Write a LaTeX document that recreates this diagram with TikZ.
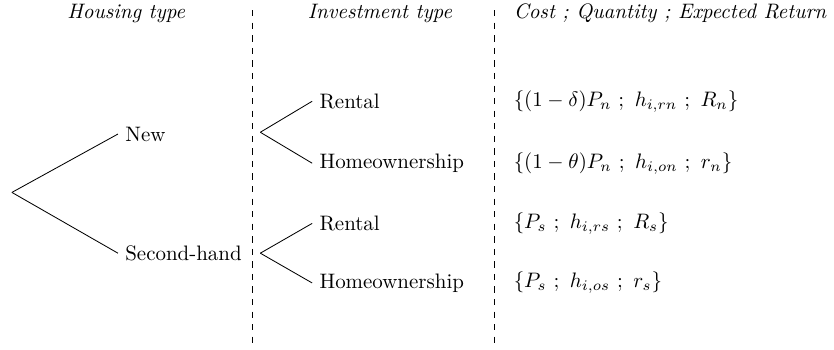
\documentclass[tikz,border=0pt]{standalone}
\usepackage{amsmath}
\usepackage{tikz}

\begin{document}
\begin{tikzpicture}[every node/.style={anchor=west}]
\useasboundingbox (0,0) rectangle (14.0,-5.86);
% column headings
\node[anchor=center] (hhouse) at (2.12,-0.22) {\textit{Housing type}};
\node[anchor=center] (hinv) at (6.38,-0.22) {\textit{Investment type}};
\node (hcost) at (8.50,-0.22) {\textit{Cost ; Quantity ; Expected Return}};
% separators
\draw[dashed] (4.23,-0.17) -- (4.23,-5.86);
\draw[dashed] (8.30,-0.17) -- (8.30,-5.86);
% first split
\coordinate (root) at (0.20,-3.23);
\node (new) at (1.98,-2.25) {New};
\node (second) at (1.98,-4.25) {Second-hand};
\draw (root) -- (new.west);
\draw (root) -- (second.west);
% second split
\coordinate (forkn) at (4.37,-2.22);
\coordinate (forks) at (4.37,-4.25);
\node (rentn) at (5.24,-1.70) {Rental};
\node (ownn) at (5.24,-2.74) {Homeownership};
\node (rents) at (5.24,-3.75) {Rental};
\node (owns) at (5.24,-4.75) {Homeownership};
\draw (forkn) -- (rentn.west);
\draw (forkn) -- (ownn.west);
\draw (forks) -- (rents.west);
\draw (forks) -- (owns.west);
% payoffs
\node (payrn) at (8.50,-1.70) {$\{(1-\delta)P_n\ ;\ h_{i,rn}\ ;\ R_n\}$};
\node (payon) at (8.50,-2.74) {$\{(1-\theta)P_n\ ;\ h_{i,on}\ ;\ r_n\}$};
\node (payrs) at (8.50,-3.75) {$\{P_s\ ;\ h_{i,rs}\ ;\ R_s\}$};
\node (payos) at (8.50,-4.75) {$\{P_s\ ;\ h_{i,os}\ ;\ r_s\}$};
\end{tikzpicture}
\end{document}
